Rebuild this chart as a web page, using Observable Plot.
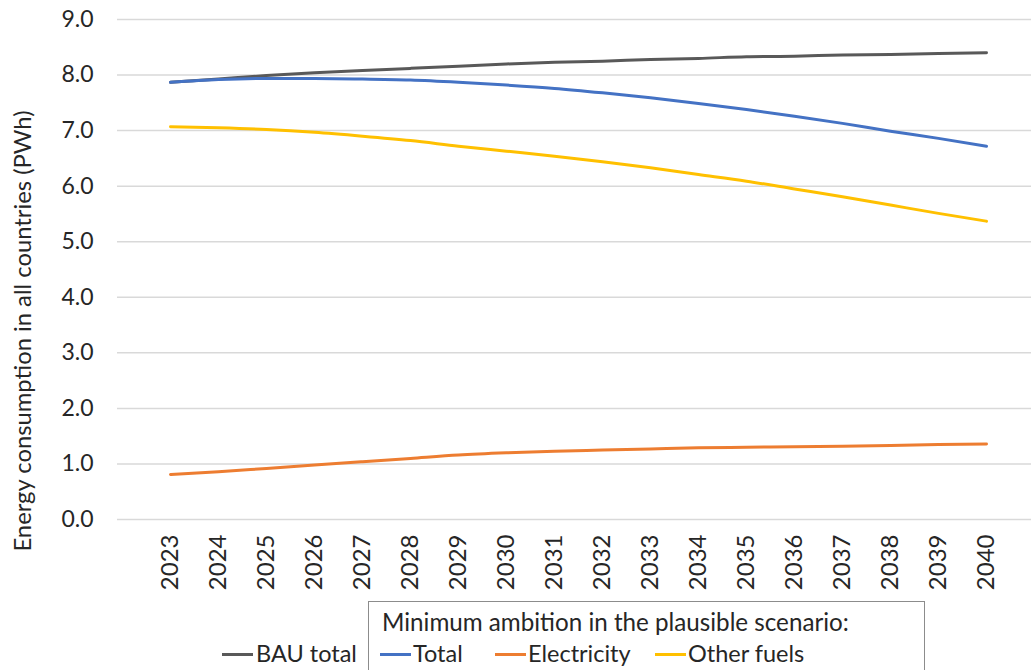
<!DOCTYPE html>
<html>
<head>
<meta charset="utf-8">
<script src="https://cdn.jsdelivr.net/npm/d3@7"></script>
<script src="https://cdn.jsdelivr.net/npm/@observablehq/plot@0.6"></script>
<style>
  html, body { margin: 0; padding: 0; background: #fff; overflow: hidden; }
  #wrap { position: relative; width: 1031px; height: 670px; font-family: Lato, "Open Sans", sans-serif; color: #262626; }
  #chart { position: absolute; left: 0; top: 0; }
  .lg { position: absolute; font-size: 23.5px; line-height: 23px; white-space: nowrap; color: #262626; }
  .sw { position: absolute; height: 3px; width: 31px; }
  #box { position: absolute; left: 368px; top: 601px; width: 557px; height: 80px; border: 1.5px solid #8c8c8c; box-sizing: border-box; }
  #ylab { position: absolute; left: 22px; top: 331px; transform: translate(-50%, -50%) rotate(-90deg); font-size: 23.8px; white-space: nowrap; color: #262626; line-height: 24px; }
</style>
</head>
<body>
<div id="wrap">
  <div id="chart"></div>
  <div id="ylab"></div>
  <div id="legend"></div>
</div>
<script>
const years = [2023,2024,2025,2026,2027,2028,2029,2030,2031,2032,2033,2034,2035,2036,2037,2038,2039,2040];
const bauTotal    = [7.87,7.93,7.99,8.04,8.08,8.12,8.16,8.20,8.23,8.25,8.28,8.30,8.33,8.34,8.36,8.37,8.39,8.40];
const total       = [7.87,7.92,7.94,7.94,7.93,7.91,7.87,7.82,7.76,7.68,7.59,7.49,7.38,7.26,7.13,6.99,6.86,6.72];
const electricity = [0.81,0.86,0.92,0.98,1.04,1.10,1.16,1.20,1.23,1.25,1.27,1.29,1.30,1.31,1.32,1.33,1.35,1.36];
const otherFuels  = [7.07,7.05,7.02,6.97,6.90,6.82,6.72,6.63,6.54,6.44,6.33,6.21,6.09,5.95,5.81,5.66,5.51,5.37];
const yTicks = [0,1,2,3,4,5,6,7,8,9];
const yLabel = "Energy consumption in all countries (PWh)";
const legendTitle = "Minimum ambition in the plausible scenario:";

const seriesDefs = [
  {name: "BAU total", values: bauTotal, color: "#595959"},
  {name: "Total", values: total, color: "#4472C4"},
  {name: "Electricity", values: electricity, color: "#ED7D31"},
  {name: "Other fuels", values: otherFuels, color: "#FFC000"}
];
const rows = seriesDefs.flatMap(s => years.map((yr, i) => ({series: s.name, year: yr, value: s.values[i]})));

const chart = Plot.plot({
  width: 1031,
  height: 595,
  marginLeft: 117,
  marginRight: 0,
  marginTop: 19,
  marginBottom: 76,
  style: {fontFamily: "Lato, 'Open Sans', sans-serif", color: "#262626", background: "transparent"},
  x: {type: "point", domain: years, range: [142, 1014]},
  y: {domain: [0, 9], range: [519, 19]},
  color: {domain: seriesDefs.map(s => s.name), range: seriesDefs.map(s => s.color)},
  marks: [
    Plot.gridY(yTicks, {stroke: "#d9d9d9", strokeOpacity: 1, strokeWidth: 1.5}),
    Plot.axisY(yTicks, {tickFormat: d => d.toFixed(1), tickSize: 0, tickPadding: 24, fontSize: 23, label: null}),
    Plot.axisX(years, {tickFormat: d => String(d), tickRotate: -90, tickSize: 0, tickPadding: 15, fontSize: 24, label: null}),
    Plot.line(rows, {x: "year", y: "value", z: "series", stroke: "series", strokeWidth: 3, curve: "monotone-x"})
  ]
});
document.getElementById("chart").appendChild(chart);
document.getElementById("ylab").textContent = yLabel;

// Legend
const lg = document.getElementById("legend");
function add(html) { lg.insertAdjacentHTML("beforeend", html); }
add(`<div id="box"></div>`);
add(`<div class="lg" style="left:382px; top:610px; font-size:24.2px;">${legendTitle}</div>`);
const items = [
  {s: seriesDefs[0], sx: 222, tx: 256},
  {s: seriesDefs[1], sx: 380, tx: 413},
  {s: seriesDefs[2], sx: 495, tx: 528},
  {s: seriesDefs[3], sx: 655, tx: 688}
];
for (const it of items) {
  add(`<div class="sw" style="left:${it.sx}px; top:653px; background:${it.s.color};"></div>`);
  add(`<div class="lg" style="left:${it.tx}px; top:642px;">${it.s.name}</div>`);
}
</script>
</body>
</html>
